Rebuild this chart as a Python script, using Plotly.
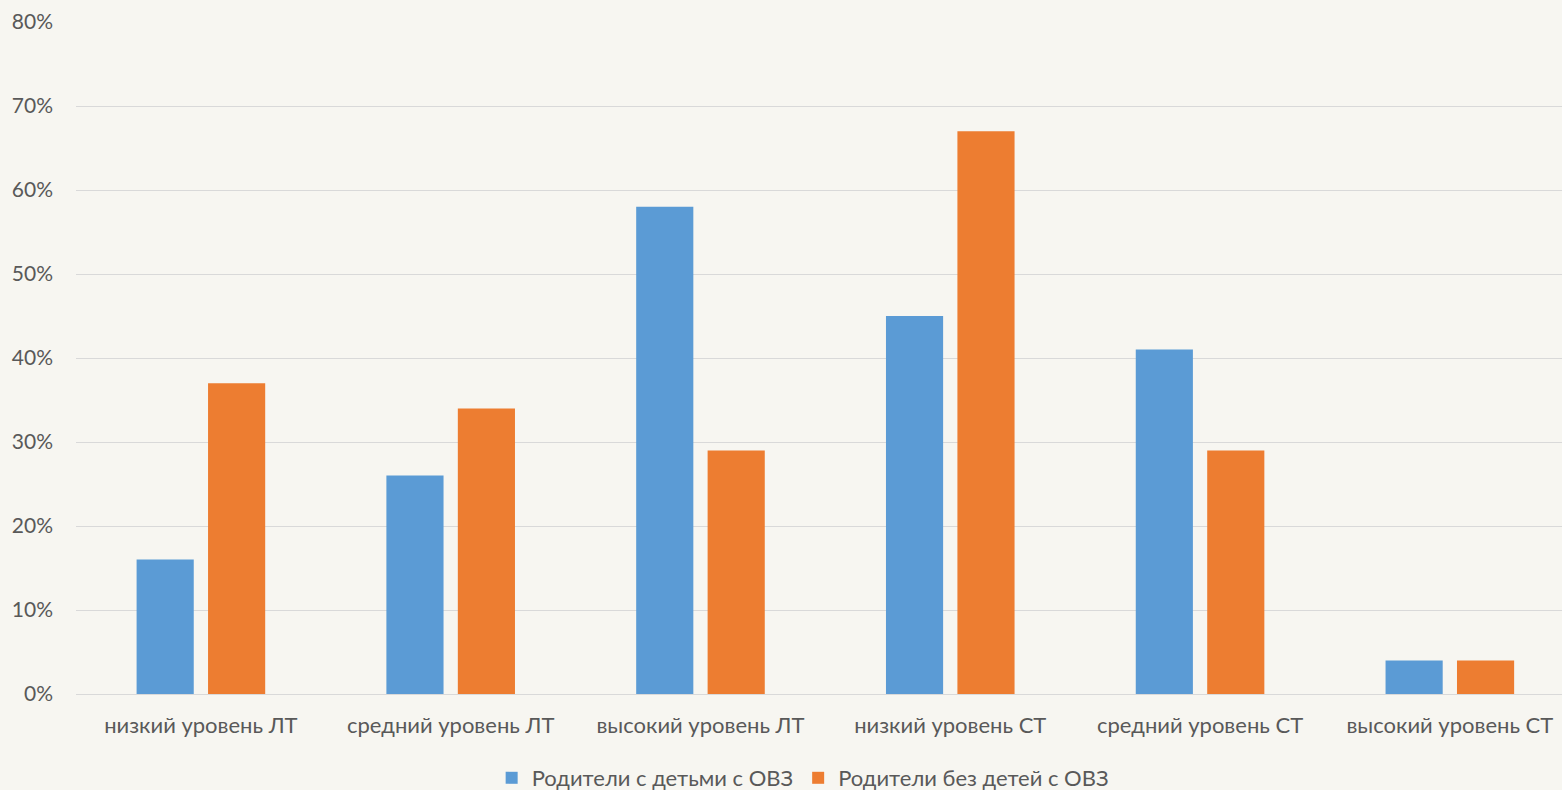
import plotly.graph_objects as go

categories = ["низкий уровень ЛТ", "средний уровень ЛТ", "высокий уровень ЛТ",
              "низкий уровень СТ", "средний уровень СТ", "высокий уровень СТ"]
series_names = ["Родители с детьми с ОВЗ", "Родители без детей с ОВЗ"]
with_children = [0.16, 0.26, 0.58, 0.45, 0.41, 0.04]
without_children = [0.37, 0.34, 0.29, 0.67, 0.29, 0.04]
y_ticks = [0, 0.1, 0.2, 0.3, 0.4, 0.5, 0.6, 0.7, 0.8]

BG = "#F7F6F1"
TEXT = "#595959"
FONT = "Lato"

fig = go.Figure()
fig.add_trace(go.Bar(x=categories, y=with_children, name=series_names[0],
                     marker=dict(color="#5B9BD5", line=dict(width=0))))
fig.add_trace(go.Bar(x=categories, y=without_children, name=series_names[1],
                     marker=dict(color="#ED7D31", line=dict(width=0))))

fig.update_layout(
    width=1562, height=790,
    paper_bgcolor=BG, plot_bgcolor=BG,
    margin=dict(l=76, r=0, t=22, b=96, autoexpand=False),
    barmode="group", bargap=0.428, bargroupgap=0.2,
    font=dict(family=FONT, size=22, color=TEXT),
    showlegend=True,
    legend=dict(orientation="h", x=0.489, xanchor="center", y=-0.125, yanchor="middle",
                font=dict(family=FONT, size=22, color=TEXT),
                itemwidth=30, tracegroupgap=0, bgcolor="rgba(0,0,0,0)"),
)
fig.update_yaxes(range=[0, 0.8], tickvals=y_ticks, tickformat=".0%", automargin=False,
                 showgrid=True, gridcolor="#D9D9D9", gridwidth=1,
                 zeroline=True, zerolinecolor="#D9D9D9", zerolinewidth=1,
                 showline=False, ticks="", ticklabelstandoff=22,
                 tickfont=dict(family=FONT, size=21, color=TEXT))
# the category band runs slightly past the right edge of the page
fig.update_xaxes(range=[-0.5, 5.449], showgrid=False, showline=False, ticks="",
                 ticklabelstandoff=16, automargin=False,
                 tickfont=dict(family=FONT, size=22, color=TEXT))

fig.write_html("out.html")
